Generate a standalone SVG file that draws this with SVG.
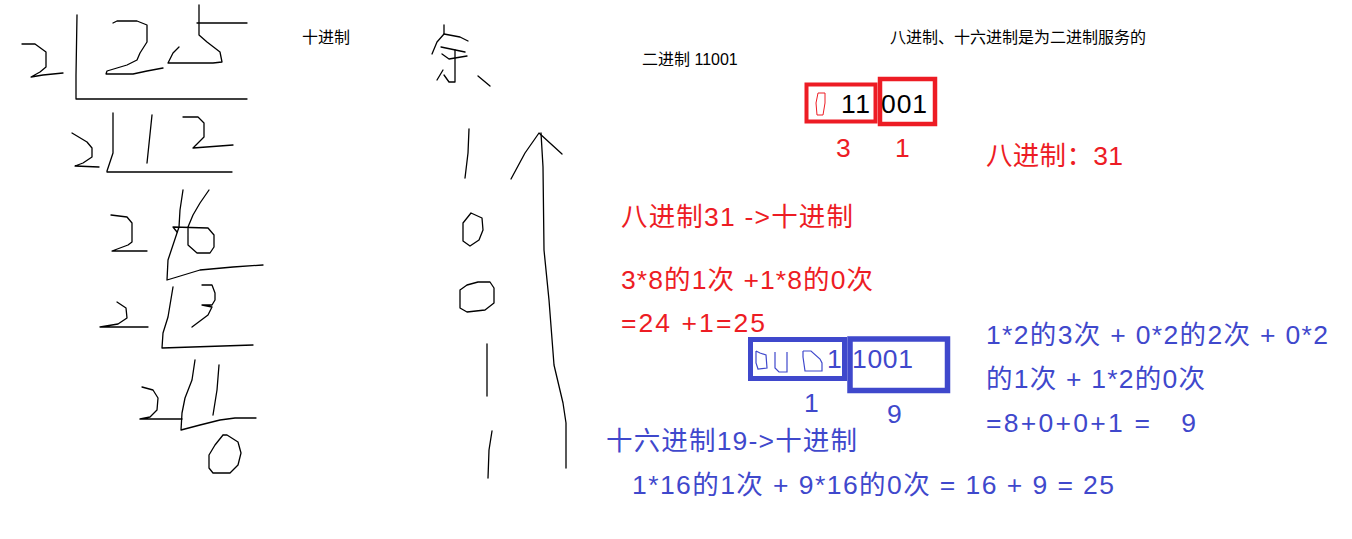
<svg xmlns="http://www.w3.org/2000/svg" width="1352" height="539" viewBox="0 0 1352 539">
<style>
.pen{fill:none;stroke:#000;stroke-width:1.3;stroke-linejoin:round;stroke-linecap:round}
.rpen{fill:none;stroke:#ED1C24;stroke-width:1}
.bpen{fill:none;stroke:#3F48CC;stroke-width:1.2}
.t{font-family:"Liberation Sans","Noto Sans CJK SC",sans-serif}
.s{font-size:16px;fill:#000}
.big{font-size:26.5px}
.red{fill:#ED1C24}
.blue{fill:#3F48CC}
.blk{fill:#000}
</style>
<rect width="1352" height="539" fill="#fff"/>

<g id="division">
<polyline class="pen" points="22,44 35,44 46,52 46,67 40,72 31,77 43,75 63,73"/>
<polyline class="pen" points="77,15 76,75 76,99 247,99"/>
<polyline class="pen" points="113,23 117,21 137,21 147,25 147,42 140,53 137,60 127,65 107,71 106,74 133,74 147,71 163,68"/>
<polyline class="pen" points="199,5 199,35 207,42 220,52 222,62 213,63 168,63 173,53 179,47"/>
<polyline class="pen" points="197,23 247,23"/>
<polyline class="pen" points="72,133 87,142 92,148 92,157 83,163 75,166 99,167"/>
<polyline class="pen" points="113,113 113,153 107,171 107,172 232,172"/>
<polyline class="pen" points="152,115 147,163"/>
<polyline class="pen" points="183,117 198,117 204,123 204,137 193,148 233,145"/>
<polyline class="pen" points="111,215 127,217 132,223 132,242 128,245 112,251 147,251"/>
<polyline class="pen" points="183,190 180,210 179,227 168,260 167,280 177,277 200,270 233,267 263,265"/>
<polyline class="pen" points="209,190 200,203 193,215 188,227 188,245 197,253 210,253 214,247 214,235 208,228 173,227 177,232"/>
<polyline class="pen" points="117,302 126,308 127,318 118,324 100,327 148,327"/>
<polyline class="pen" points="173,287 168,317 163,333 162,348 253,345"/>
<polyline class="pen" points="202,285 212,285 215,293 215,300 212,305 202,305 212,307 208,315 192,327"/>
<polyline class="pen" points="142,387 153,390 158,398 157,410 150,417 140,419 182,419"/>
<polyline class="pen" points="195,360 192,380 185,398 182,413 181,430 200,425 220,420 235,418 256,418"/>
<polyline class="pen" points="219,365 217,390 213,415"/>
<polyline class="pen" points="223,435 227,435 238,442 241,453 238,465 230,473 213,473 209,468 209,455 215,445 223,435"/>
</g>

<g id="remainders">
<polyline class="pen" points="444,25 444,34 437,42 432,54"/>
<polyline class="pen" points="444,34 460,37 468,41"/>
<polyline class="pen" points="441,47 465,52"/>
<polyline class="pen" points="442,54 449,59 467,56"/>
<polyline class="pen" points="455,50 455,82 449,82 444,75"/>
<polyline class="pen" points="443,70 437,80"/>
<polyline class="pen" points="478,76 490,86"/>
<polyline class="pen" points="469,129 468,153 465,178"/>
<polyline class="pen" points="471,213 482,218 483,230 479,240 470,246 463,241 463,223 471,213"/>
<polyline class="pen" points="460,290 467,285 478,282 490,282 494,288 494,303 485,310 467,312 460,308 460,290"/>
<polyline class="pen" points="487,344 487,396"/>
<polyline class="pen" points="492,431 489,450 488,478"/>
</g>

<g id="connectors">
<polyline class="pen" points="566,468 566,423 563,403 554,365 549,300 544,250 543,167 541,133"/>
<polyline class="pen" points="511,179 525,153 539,133 562,154"/>
</g>

<g id="titles">
<text class="t s" x="302" y="43">十进制</text>
<text class="t s" x="642" y="65">二进制 11001</text>
<text class="t s" x="890" y="43">八进制、十六进制是为二进制服务的</text>
</g>

<g id="octal-group">
<rect x="806.5" y="84.5" width="69" height="37" fill="none" stroke="#ED1C24" stroke-width="4"/>
<rect x="880" y="79" width="55" height="45" fill="none" stroke="#ED1C24" stroke-width="4.5"/>
<polyline class="rpen" points="818,93 825,93 825,103 823,115 817,115 816,103 818,93"/>
<text class="t big blk" x="841" y="113" textLength="29">11</text>
<text class="t big blk" x="881" y="113" textLength="46">001</text>
<text class="t big red" x="836" y="157">3</text>
<text class="t big red" x="895" y="157">1</text>
</g>

<g id="octal-text">
<text class="t big red" x="986" y="165" textLength="137">八进制：31</text>
<text class="t big red" x="621" y="226" textLength="232">八进制31 -&gt;十进制</text>
<text class="t big red" x="621" y="289" textLength="252">3*8的1次 +1*8的0次</text>
<text class="t big red" x="621" y="332" textLength="144">=24 +1=25</text>
</g>

<g id="hex-group">
<rect x="750.5" y="339.5" width="94" height="39" fill="none" stroke="#3F48CC" stroke-width="5"/>
<rect x="850" y="339" width="97.5" height="51.5" fill="none" stroke="#3F48CC" stroke-width="5.5"/>
<polyline class="bpen" points="756,351 760,353 766,355 767,368 758,369 756,363 756,351"/>
<polyline class="bpen" points="775,352 775,368 779,372 787,372 787,352"/>
<polyline class="bpen" points="803,351 811,351 820,359 822,363 822,371 805,371 803,357 803,351"/>
<text class="t big blue" x="827" y="368">1</text>
<text class="t big blue" x="852" y="368" textLength="61">1001</text>
<text class="t big blue" x="804" y="412">1</text>
<text class="t big blue" x="887" y="423">9</text>
</g>

<g id="hex-text">
<text class="t big blue" x="986" y="344" textLength="342">1*2的3次 + 0*2的2次 + 0*2</text>
<text class="t big blue" x="986" y="388" textLength="219">的1次 + 1*2的0次</text>
<text class="t big blue" x="986" y="432" xml:space="preserve" textLength="210">=8+0+0+1 =   9</text>
<text class="t big blue" x="606" y="450" textLength="251">十六进制19-&gt;十进制</text>
<text class="t big blue" x="632" y="494" textLength="482">1*16的1次 + 9*16的0次 = 16 + 9 = 25</text>
</g>
</svg>
